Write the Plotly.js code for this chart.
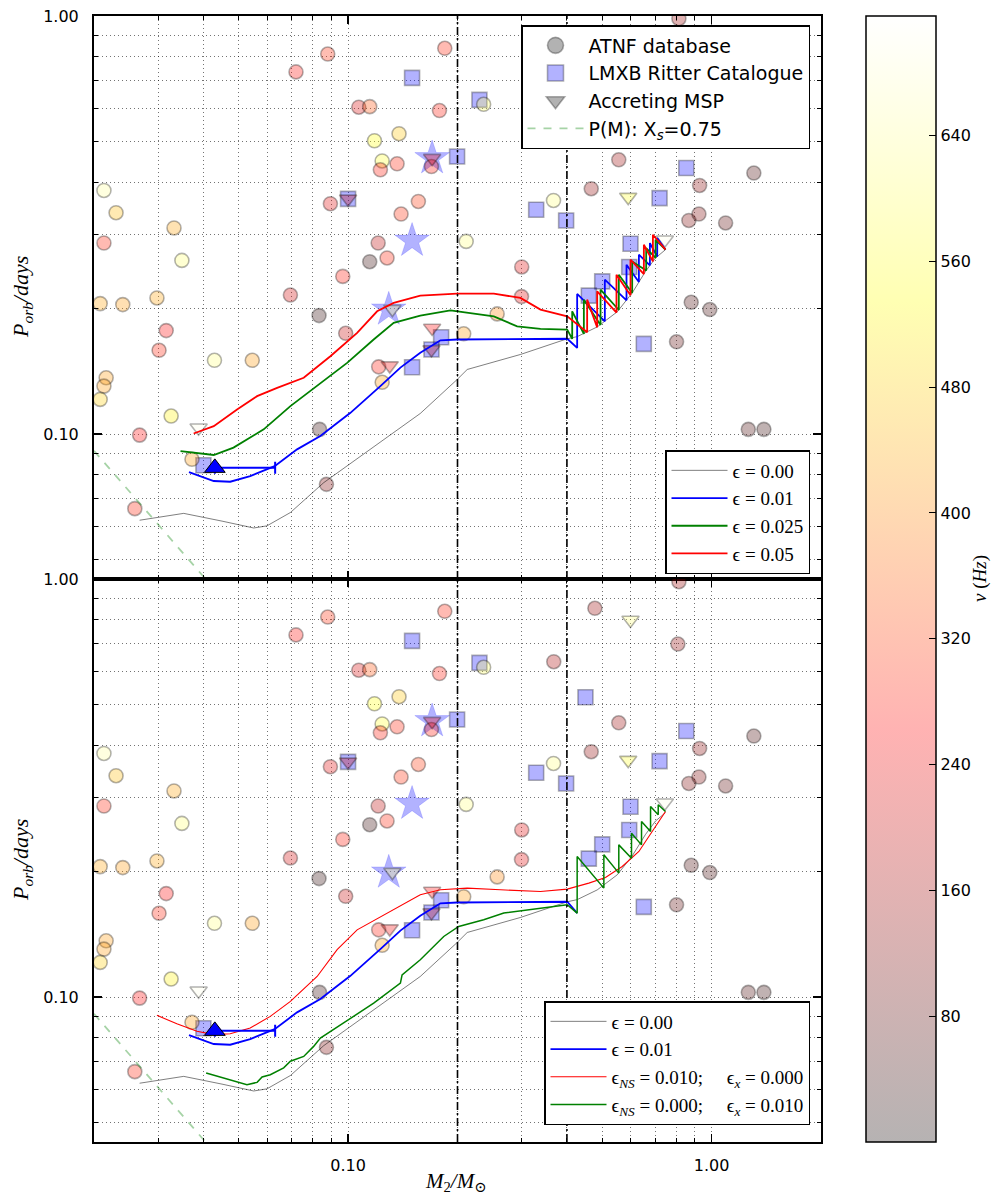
<!DOCTYPE html>
<html><head><meta charset="utf-8">
<script src="https://cdn.plot.ly/plotly-3.0.1.min.js"></script>
<style>body{margin:0;background:#fff}</style>
</head><body><div id="plot" style="width:994px;height:1198px"></div>
<script>
// ---- ATNF database pulsars: companion mass (Msun), orbital period (days), spin frequency (Hz)
const atnfM = [0.0879,0.0719,0.107,0.1147,0.1182,0.1381,0.1241,0.1227,0.1364,0.0213,0.023,0.0213,0.0332,0.0349,0.0894,0.1399,0.1561,0.121,0.1147,0.128,0.0967,0.0694,0.0298,0.0208,0.024,0.0316,0.0302,0.0429,0.0545,0.0832,0.0985,0.0216,0.0213,0.0208,0.0326,0.0267,0.0372,0.1214,0.1241,0.0835,0.0872,0.0259,0.1845,0.236,0.1784,0.1696,0.2113,0.3004,0.5555,1.307,0.4666,0.927,0.3674,0.866,0.923,1.093,0.30,0.879,0.989,0.2571,0.208,0.801,1.262,1.393,0.4775,0.8077,0.368,0.813];
const atnfP = [0.811,0.735,0.605,0.607,0.503,0.523,0.450,0.4286,0.443,0.3825,0.3384,0.2864,0.3111,0.2602,0.3556,0.336,0.36,0.2864,0.2584,0.2637,0.2383,0.215,0.2116,0.2051,0.204,0.1768,0.1586,0.1501,0.1501,0.192,0.1742,0.1363,0.1302,0.121,0.1104,0.0994,0.087,0.1448,0.133,0.1026,0.0758,0.0663,0.837,0.615,0.594,0.4365,0.2889,0.251,0.4529,0.421,0.3862,0.3932,0.362,0.3243,0.336,0.3198,0.2132,0.2066,0.1985,0.1938,0.1737,0.1662,0.1026,0.1026,0.851,0.699,0.634,0.985];
const atnfF = [300,270,220,340,540,470,560,280,290,640,460,290,430,610,230,300,310,190,40,290,280,210,430,430,420,260,290,620,420,30,200,420,420,480,520,260,420,280,420,40,120,290,290,600,280,280,620,230,150,60,140,130,620,120,120,80,230,60,50,400,420,80,60,40,150,140,170,150];
// ---- LMXB Ritter catalogue
const lmxbM = [0.150,0.2298,0.1,0.1995,0.852,0.7193,0.3292,0.398,0.5984,0.5935,0.5002,0.4595,0.1803,0.150,0.651,0.04,0.1696,0.4498];
const lmxbP = [0.711,0.630,0.3653,0.4612,0.4328,0.3668,0.344,0.3243,0.2853,0.251,0.2318,0.2143,0.1704,0.1445,0.1643,0.0842,0.1593,0.5215];
// ---- Accreting millisecond pulsars
const amspM = [0.1,0.0388,0.1302,0.5897,0.7438,0.1703,0.1696,0.5984,0.1703,0.1324];
const amspP = [0.3653,0.1035,0.1458,0.3688,0.2916,0.1794,0.1593,0.798,0.457,0.199];
const amspF = [190,700,250,560,700,260,180,620,240,620];
// ---- highlighted systems (stars)
const starM = [0.150,0.1294,0.1703];
const starP = [0.290,0.1985,0.457];
// ---- observed source with mass error
const srcM = [0.043], srcP = [0.083], srcErrPlus = [0.020], srcErrMinus = [0];
// ---- P(M) relation, X_s = 0.75
const pmM = [0.02,0.041], pmP = [0.0912,0.0445];
// ---- evolutionary tracks (upper panel)
const e000M = [0.0267,0.0353,0.045,0.055,0.0598,0.0694,0.0857,0.158,0.1995,0.2127,0.298,0.372,0.4008,0.4269,0.4846,0.5499,0.6049,0.6581,0.7012,0.7468];
const e000P = [0.0622,0.0646,0.0619,0.0596,0.0603,0.0649,0.0765,0.112,0.135,0.1427,0.155,0.165,0.169,0.171,0.1804,0.196,0.2176,0.2449,0.2637,0.2761];
const e010M = [0.0365,0.0427,0.0474,0.0538,0.0628,0.0724,0.0839,0.1015,0.1227,0.1393,0.158,0.1795,0.1995,0.2797,0.4008,0.4268,0.4268,0.5086,0.5086,0.5834,0.5834,0.6310,0.6310,0.6766,0.6766,0.7087,0.7087,0.7468];
const e010P = [0.0811,0.0772,0.0769,0.0793,0.0838,0.0919,0.0989,0.1124,0.1302,0.1442,0.1564,0.1676,0.1683,0.1683,0.169,0.1607,0.2163,0.1861,0.2340,0.2089,0.2541,0.2310,0.2685,0.2532,0.2863,0.2656,0.2942,0.2761];
const e025M = [0.0346,0.0427,0.0484,0.0586,0.0694,0.0822,0.0994,0.1176,0.1335,0.158,0.1912,0.2517,0.2918,0.3383,0.4007,0.4136,0.4136,0.4453,0.4453,0.4949,0.4949,0.5556,0.5556,0.6048,0.6048,0.6609,0.6609,0.7014,0.7014,0.7468];
const e025P = [0.0910,0.0891,0.0928,0.1026,0.1166,0.1302,0.148,0.1683,0.1845,0.192,0.1977,0.1912,0.181,0.1784,0.1778,0.1689,0.1966,0.1736,0.2096,0.1824,0.2215,0.1980,0.2405,0.2175,0.2588,0.2463,0.2786,0.2637,0.2916,0.2761];
const e050M = [0.0376,0.0427,0.0495,0.0562,0.0638,0.0755,0.0894,0.1059,0.1202,0.1335,0.158,0.1995,0.2517,0.298,0.3383,0.4007,0.4547,0.4547,0.4845,0.4845,0.5475,0.5475,0.5984,0.5984,0.6512,0.6512,0.6896,0.6896,0.7468];
const e050P = [0.1003,0.1044,0.1145,0.1232,0.129,0.1363,0.1535,0.1746,0.1966,0.2059,0.2143,0.2168,0.2168,0.2116,0.1985,0.1912,0.1752,0.2096,0.1800,0.2195,0.1952,0.2405,0.2147,0.2613,0.2414,0.2837,0.2588,0.2997,0.2761];
// ---- evolutionary tracks (lower panel)
const b010M = [0.0365,0.0427,0.0474,0.0538,0.0628,0.0724,0.0839,0.1015,0.1227,0.1393,0.158,0.1795,0.1995,0.2797,0.4008,0.4268];
const b010P = [0.0811,0.0772,0.0769,0.0793,0.0838,0.0919,0.0989,0.1124,0.1302,0.1442,0.1564,0.1676,0.1683,0.1683,0.169,0.1588];
const nsM = [0.0298,0.0338,0.0384,0.0427,0.0474,0.0538,0.0611,0.0694,0.0822,0.0933,0.1059,0.1253,0.1453,0.158,0.1795,0.2127,0.2626,0.3383,0.4008,0.4595,0.5108,0.5677,0.631,0.6868,0.7468];
const nsP = [0.0904,0.0863,0.0828,0.0813,0.0817,0.0843,0.0899,0.0976,0.112,0.1298,0.1448,0.1573,0.1693,0.1757,0.1805,0.1822,0.1805,0.1788,0.1812,0.1873,0.1931,0.2052,0.2229,0.2488,0.2778];
const xM = [0.0407,0.0474,0.0527,0.0562,0.058,0.0611,0.0665,0.0694,0.0755,0.0804,0.0839,0.0972,0.1176,0.1393,0.1408,0.158,0.1833,0.2016,0.2361,0.2682,0.3243,0.4008,0.4268,0.4268,0.5054,0.5054,0.5556,0.5556,0.6022,0.6022,0.6416,0.6416,0.6794,0.6794,0.7132,0.7132,0.7468];
const xP = [0.0658,0.0634,0.0617,0.0625,0.0644,0.0652,0.0677,0.0702,0.0721,0.0762,0.0798,0.0867,0.0967,0.108,0.113,0.1228,0.1396,0.1475,0.153,0.1588,0.1623,0.1662,0.1587,0.2169,0.1822,0.2189,0.1979,0.2312,0.2149,0.2465,0.2312,0.2629,0.2488,0.2856,0.2728,0.2883,0.2779];
// ---- reference masses (vertical lines) and ticks
const vlines = [0.2, 0.4];
const majorTicks = [0.1, 1], majorText = ['0.10','1.00'];
const minorX = [0.03,0.04,0.05,0.06,0.07,0.08,0.09,0.2,0.3,0.4,0.5,0.6,0.7,0.8,0.9];
const minorY = [0.05,0.06,0.07,0.08,0.09,0.2,0.3,0.4,0.5,0.6,0.7,0.8,0.9];
const cbTicks = [80,160,240,320,400,480,560,640];

const hot = [[0,'rgba(11,0,0,0.3)'],[0.365,'rgba(255,0,0,0.3)'],[0.746,'rgba(255,255,0,0.3)'],[1,'rgba(255,255,255,0.3)']];
const edge = {color:'rgba(0,0,0,0.3)', width:1.6};
const CMAX = 716;
const NB = '\u00A0';

function panel(xa, ya, top){
  const t = [];
  t.push({x:starM,y:starP,xaxis:xa,yaxis:ya,mode:'markers',showlegend:false,
    marker:{symbol:'star',size:26,color:'rgba(0,0,255,0.3)',line:{color:'rgba(0,0,255,0.15)',width:1}}});
  t.push({x:lmxbM,y:lmxbP,xaxis:xa,yaxis:ya,mode:'markers',showlegend:false,
    marker:{symbol:'square',size:15,color:'rgba(0,0,255,0.3)',line:edge}});
  const atnf = {x:atnfM,y:atnfP,xaxis:xa,yaxis:ya,mode:'markers',showlegend:false,
    marker:{symbol:'circle',size:14,color:atnfF,colorscale:hot,cmin:0,cmax:CMAX,line:edge,showscale:top}};
  if(top){
    atnf.marker.colorbar = {x:(866-94)/727, xanchor:'left', xpad:0, y:0.5, yanchor:'middle', ypad:0,
      len:1, lenmode:'fraction', thickness:70, thicknessmode:'pixels', outlinewidth:1.5, outlinecolor:'black',
      tickmode:'array', tickvals:cbTicks, ticks:'inside', ticklen:7, tickcolor:'black', tickwidth:1,
      tickfont:{family:'DejaVu Sans', size:16, color:'black'}};
  }
  t.push(atnf);
  t.push({x:amspM,y:amspP,xaxis:xa,yaxis:ya,mode:'markers',showlegend:false,
    marker:{symbol:'triangle-down',size:15,color:amspF,colorscale:hot,cmin:0,cmax:CMAX,line:edge,showscale:false}});
  t.push({x:pmM,y:pmP,xaxis:xa,yaxis:ya,mode:'lines',name:'P(M):'+NB+'X<sub><i>s</i></sub>=0.75',
    showlegend:top,legend:'legend',legendgroup:'g4',legendrank:4,line:{color:'rgba(0,128,0,0.35)',width:1.8,dash:'8px,8px'}});
  return t;
}

const data = [];
// legend markers (upper legend)
data.push({x:[null],y:[null],mode:'markers',name:'ATNF database',legend:'legend',legendgroup:'g1',legendrank:1,
  marker:{symbol:'circle',size:16,color:'rgba(0,0,0,0.3)',line:edge}});
data.push({x:[null],y:[null],mode:'markers',name:'LMXB Ritter Catalogue',legend:'legend',legendgroup:'g2',legendrank:2,
  marker:{symbol:'square',size:16,color:'rgba(0,0,255,0.3)',line:edge}});
data.push({x:[null],y:[null],mode:'markers',name:'Accreting MSP',legend:'legend',legendgroup:'g3',legendrank:3,
  marker:{symbol:'triangle-down',size:16,color:'rgba(0,0,0,0.3)',line:edge}});

data.push(...panel('x','y',true));
data.push(...panel('x2','y2',false));

const eq = NB+'='+NB;
const sep = ';'+NB+NB+NB+NB+NB;
// upper panel tracks
data.push({x:e000M,y:e000P,xaxis:'x',yaxis:'y',mode:'lines',name:'ϵ'+eq+'0.00',legend:'legend2',legendrank:1,line:{color:'rgba(0,0,0,0.5)',width:1}});
data.push({x:e010M,y:e010P,xaxis:'x',yaxis:'y',mode:'lines',name:'ϵ'+eq+'0.01',legend:'legend2',legendrank:2,line:{color:'blue',width:1.8}});
data.push({x:e025M,y:e025P,xaxis:'x',yaxis:'y',mode:'lines',name:'ϵ'+eq+'0.025',legend:'legend2',legendrank:3,line:{color:'green',width:1.8}});
data.push({x:e050M,y:e050P,xaxis:'x',yaxis:'y',mode:'lines',name:'ϵ'+eq+'0.05',legend:'legend2',legendrank:4,line:{color:'red',width:1.8}});
// lower panel tracks
data.push({x:e000M,y:e000P,xaxis:'x2',yaxis:'y2',mode:'lines',name:'ϵ'+eq+'0.00',legend:'legend3',legendrank:1,line:{color:'rgba(0,0,0,0.5)',width:1}});
data.push({x:b010M,y:b010P,xaxis:'x2',yaxis:'y2',mode:'lines',name:'ϵ'+eq+'0.01',legend:'legend3',legendrank:2,line:{color:'blue',width:1.8}});
data.push({x:nsM,y:nsP,xaxis:'x2',yaxis:'y2',mode:'lines',name:'ϵ<sub><i>NS</i></sub>'+eq+'0.010'+sep+'ϵ<sub><i>x</i></sub>'+eq+'0.000',legend:'legend3',legendrank:3,line:{color:'red',width:1.1}});
data.push({x:xM,y:xP,xaxis:'x2',yaxis:'y2',mode:'lines',name:'ϵ<sub><i>NS</i></sub>'+eq+'0.000'+sep+'ϵ<sub><i>x</i></sub>'+eq+'0.010',legend:'legend3',legendrank:4,line:{color:'green',width:1.5}});

// observed source (both panels)
['y','y2'].forEach((ya,i)=>{
  data.push({x:srcM,y:srcP,xaxis:i?'x2':'x',yaxis:ya,mode:'markers',showlegend:false,
    marker:{symbol:'triangle-up',size:18,color:'blue',line:{color:'black',width:1}},
    error_x:{type:'data',symmetric:false,array:srcErrPlus,arrayminus:srcErrMinus,color:'blue',thickness:2,width:6}});
});

const gridc = 'rgba(0,0,0,0.55)';
function xaxisDef(anchor, labels){
  return {type:'log', range:[Math.log10(0.02), Math.log10(2)], domain:[0,1], anchor:anchor,
    tickmode:'array', tickvals:majorTicks, ticktext:majorText, showticklabels:labels,
    ticks:'inside', ticklen:8, tickwidth:1.5, tickcolor:'black', ticklabelstandoff:8,
    showline:true, linecolor:'black', linewidth:2, mirror:'ticks', zeroline:false,
    showgrid:true, gridcolor:gridc, griddash:'1px,3px', gridwidth:1,
    minor:{tickmode:'array', tickvals:minorX, ticks:'inside', ticklen:4, tickwidth:1, tickcolor:'black',
      showgrid:true, gridcolor:gridc, griddash:'1px,3px', gridwidth:1},
    tickfont:{family:'DejaVu Sans', size:16, color:'black'}};
}
function yaxisDef(anchor, dom){
  return {type:'log', range:[Math.log10(0.045), 0], domain:dom, anchor:anchor,
    tickmode:'array', tickvals:majorTicks, ticktext:majorText,
    ticks:'inside', ticklen:8, tickwidth:1.5, tickcolor:'black', ticklabelstandoff:10,
    showline:true, linecolor:'black', linewidth:2, mirror:'ticks', zeroline:false,
    showgrid:true, gridcolor:gridc, griddash:'1px,3px', gridwidth:1,
    minor:{tickmode:'array', tickvals:minorY, ticks:'inside', ticklen:4, tickwidth:1, tickcolor:'black',
      showgrid:true, gridcolor:gridc, griddash:'1px,3px', gridwidth:1},
    tickfont:{family:'DejaVu Sans', size:16, color:'black'}};
}

const shapes = [];
vlines.forEach(v=>{
  [['x','y domain'],['x2','y2 domain']].forEach(([xr,yr])=>{
    shapes.push({type:'line', xref:xr, yref:yr, x0:v, x1:v, y0:0, y1:1,
      line:{color:'black', width:1.6, dash:'8px,3px,2px,3px'}});
  });
});

const serif = 'Liberation Serif, DejaVu Serif, serif';
const ann = (text, x, y, angle, size) => ({text, xref:'paper', yref:'paper', x, y, xanchor:'center', yanchor:'middle',
  textangle:angle, showarrow:false, font:{family:serif, size, color:'black'}});
const annotations = [
  ann('<i>P</i><sub><i>orb</i></sub><i>/days</i>', (22-94)/727, (1142-297)/1126, -90, 22),
  ann('<i>P</i><sub><i>orb</i></sub><i>/days</i>', (22-94)/727, (1142-860)/1126, -90, 22),
  ann('<i>M</i><sub>2</sub><i>/M</i><sub>⊙</sub>', (455-94)/727, (1142-1182)/1126, 0, 21),
  ann('<i>ν</i>'+NB+'(<i>Hz</i>)', (980-94)/727, (1142-579)/1126, -90, 19)
];

const legBase = {bgcolor:'white', bordercolor:'black', borderwidth:1.5, xanchor:'right', traceorder:'normal'};
const layout = {
  width:994, height:1198, margin:{l:94, r:173, t:16, b:56},
  paper_bgcolor:'white', plot_bgcolor:'white',
  font:{family:'DejaVu Sans', color:'black'},
  xaxis:xaxisDef('y', false), xaxis2:xaxisDef('y2', true),
  yaxis:yaxisDef('x', [0.5,1]), yaxis2:yaxisDef('x2', [0,0.5]),
  shapes:shapes, annotations:annotations,
  legend:Object.assign({}, legBase, {x:(810-94)/727, y:(1142-25)/1126, yanchor:'top', itemwidth:56, tracegroupgap:2,
    font:{family:'DejaVu Sans', size:19, color:'black'}}),
  legend2:Object.assign({}, legBase, {x:(810-94)/727, y:(1142-450)/1126, yanchor:'top', itemwidth:56,
    font:{family:serif, size:19, color:'black'}}),
  legend3:Object.assign({}, legBase, {x:(810-94)/727, y:(1142-1125)/1126, yanchor:'bottom', itemwidth:56,
    font:{family:serif, size:19, color:'black'}})
};

Plotly.newPlot('plot', data, layout, {displayModeBar:false, staticPlot:true});
</script>
</body></html>
